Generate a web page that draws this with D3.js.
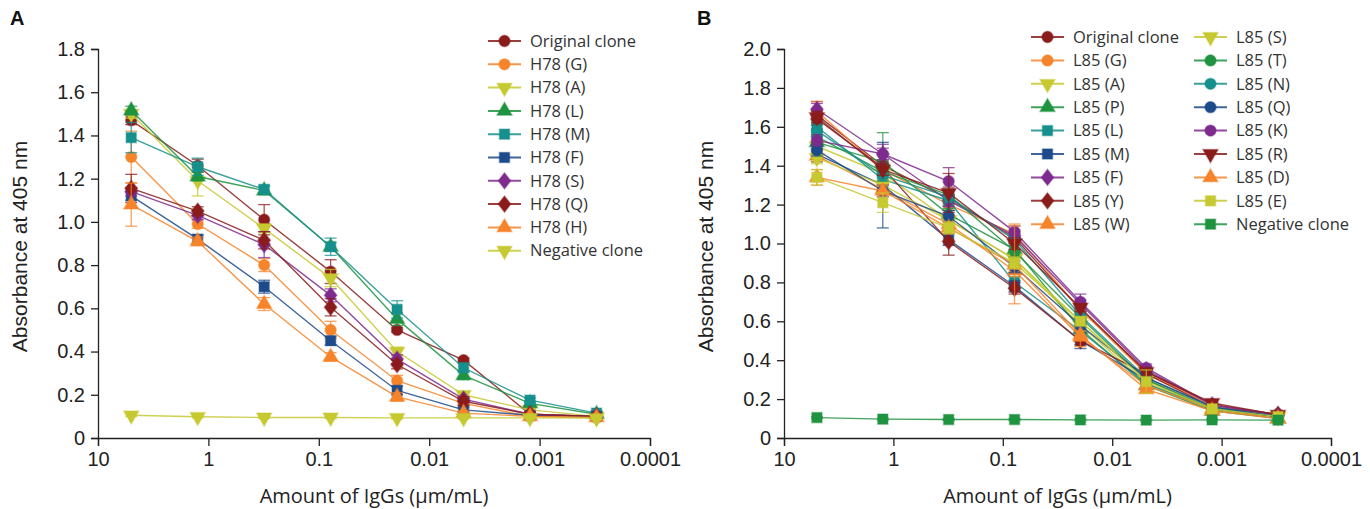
<!DOCTYPE html>
<html>
<head>
<meta charset="utf-8">
<script src="https://d3js.org/d3.v7.min.js"></script>
<style>
  body { margin: 0; background: #fff; }
  svg { display: block; }
</style>
</head>
<body>
<svg id="chart" width="1370" height="509"></svg>
<script>
// dilution series, 4-fold from 5 ug/mL
const conc = [5, 1.25, 0.3125, 0.078125, 0.01953, 0.004883, 0.001221, 0.000305];
const xTicks = [10, 1, 0.1, 0.01, 0.001, 0.0001];

const colors = {
    darkred: "#8a1c1c",
    orange: "#f5842a",
    lime: "#c6c930",
    green: "#1f9340",
    teal: "#16908c",
    navy: "#1d4a8a",
    purple: "#7e2b8e"
};

// ---- panel A ----
const namesA = ["Original clone", "H78 (G)", "H78 (A)", "H78 (L)", "H78 (M)", "H78 (F)", "H78 (S)", "H78 (Q)", "H78 (H)", "Negative clone"];
const colorsA = ["darkred", "orange", "lime", "green", "teal", "navy", "purple", "darkred", "orange", "lime"];
const shapesA = ["circle", "circle", "tridown", "triangle", "square", "square", "diamond", "diamond", "triangle", "tridown"];
const valuesA = [
    [1.47, 1.26, 1.01, 0.77, 0.50, 0.36, 0.11, 0.10],
    [1.30, 0.99, 0.80, 0.50, 0.265, 0.16, 0.10, 0.095],
    [1.50, 1.19, 0.97, 0.74, 0.40, 0.20, 0.13, 0.10],
    [1.515, 1.21, 1.145, 0.885, 0.55, 0.29, 0.16, 0.11],
    [1.39, 1.255, 1.15, 0.885, 0.595, 0.325, 0.175, 0.115],
    [1.12, 0.92, 0.70, 0.45, 0.22, 0.13, 0.105, 0.10],
    [1.14, 1.03, 0.895, 0.66, 0.365, 0.18, 0.11, 0.10],
    [1.155, 1.05, 0.915, 0.605, 0.34, 0.17, 0.11, 0.10],
    [1.08, 0.91, 0.62, 0.375, 0.19, 0.115, 0.10, 0.095],
    [0.105, 0.098, 0.095, 0.095, 0.093, 0.093, 0.093, 0.092]
];
const errA = [
    [0.02, 0.03, 0.07, 0.055, 0.01, 0.01, 0.01, 0.01],
    [0.12, 0.02, 0.03, 0.04, 0.025, 0.01, 0.01, 0.01],
    [0.02, 0.07, 0.02, 0.04, 0.02, 0.01, 0.01, 0.01],
    [0.02, 0.02, 0.02, 0.02, 0.03, 0.02, 0.01, 0.01],
    [0.07, 0.04, 0.02, 0.04, 0.04, 0.02, 0.01, 0.01],
    [0.02, 0.02, 0.03, 0.02, 0.02, 0.01, 0.01, 0.01],
    [0.02, 0.02, 0.06, 0.03, 0.02, 0.01, 0.01, 0.01],
    [0.065, 0.02, 0.04, 0.04, 0.02, 0.02, 0.01, 0.01],
    [0.10, 0.02, 0.03, 0.02, 0.02, 0.01, 0.01, 0.01],
    [0.005, 0.005, 0.005, 0.005, 0.005, 0.005, 0.005, 0.005]
];
const yTicksA = [0, 0.2, 0.4, 0.6, 0.8, 1.0, 1.2, 1.4, 1.6, 1.8];

// ---- panel B ----
const namesB = ["Original clone", "L85 (G)", "L85 (A)", "L85 (P)", "L85 (L)", "L85 (M)", "L85 (F)", "L85 (Y)", "L85 (W)",
                "L85 (S)", "L85 (T)", "L85 (N)", "L85 (Q)", "L85 (K)", "L85 (R)", "L85 (D)", "L85 (E)", "Negative clone"];
const colorsB = ["darkred", "orange", "lime", "green", "teal", "navy", "purple", "darkred", "orange",
                 "lime", "green", "teal", "navy", "purple", "darkred", "orange", "lime", "green"];
const shapesB = ["circle", "circle", "tridown", "triangle", "square", "square", "diamond", "diamond", "triangle",
                 "tridown", "circle", "circle", "circle", "circle", "tridown", "triangle", "square", "square"];
const valuesB = [
    [1.66, 1.40, 1.23, 1.03, 0.66, 0.34, 0.17, 0.12],
    [1.68, 1.38, 1.20, 1.05, 0.66, 0.33, 0.17, 0.12],
    [1.50, 1.36, 1.12, 0.92, 0.58, 0.28, 0.15, 0.11],
    [1.52, 1.42, 1.15, 0.97, 0.56, 0.27, 0.14, 0.10],
    [1.60, 1.33, 1.22, 0.80, 0.55, 0.28, 0.15, 0.11],
    [1.46, 1.30, 1.02, 0.78, 0.50, 0.30, 0.15, 0.11],
    [1.69, 1.46, 1.22, 1.04, 0.69, 0.35, 0.17, 0.12],
    [1.64, 1.39, 1.01, 0.77, 0.50, 0.33, 0.16, 0.12],
    [1.45, 1.28, 1.10, 0.86, 0.52, 0.27, 0.15, 0.10],
    [1.44, 1.30, 1.12, 0.92, 0.60, 0.30, 0.15, 0.11],
    [1.55, 1.37, 1.25, 0.96, 0.62, 0.30, 0.15, 0.11],
    [1.58, 1.35, 1.24, 1.02, 0.63, 0.31, 0.16, 0.11],
    [1.48, 1.27, 1.14, 0.88, 0.58, 0.31, 0.16, 0.11],
    [1.53, 1.46, 1.32, 1.06, 0.70, 0.36, 0.17, 0.12],
    [1.65, 1.38, 1.26, 1.00, 0.67, 0.34, 0.18, 0.12],
    [1.34, 1.27, 1.08, 0.89, 0.53, 0.25, 0.14, 0.10],
    [1.34, 1.21, 1.08, 0.90, 0.60, 0.29, 0.15, 0.11],
    [0.105, 0.097, 0.095, 0.095, 0.093, 0.092, 0.093, 0.092]
];
const errB = [
    [0.07, 0.03, 0.06, 0.03, 0.03, 0.02, 0.01, 0.01],
    [0.05, 0.03, 0.03, 0.05, 0.02, 0.02, 0.01, 0.01],
    [0.03, 0.03, 0.03, 0.03, 0.02, 0.02, 0.01, 0.01],
    [0.03, 0.15, 0.03, 0.03, 0.02, 0.02, 0.01, 0.01],
    [0.03, 0.03, 0.03, 0.03, 0.02, 0.02, 0.01, 0.01],
    [0.04, 0.22, 0.03, 0.03, 0.04, 0.02, 0.01, 0.01],
    [0.03, 0.03, 0.03, 0.03, 0.02, 0.02, 0.01, 0.01],
    [0.03, 0.03, 0.07, 0.03, 0.02, 0.02, 0.01, 0.01],
    [0.03, 0.03, 0.03, 0.03, 0.05, 0.02, 0.01, 0.01],
    [0.03, 0.03, 0.03, 0.03, 0.02, 0.02, 0.01, 0.01],
    [0.03, 0.03, 0.03, 0.03, 0.02, 0.02, 0.01, 0.01],
    [0.03, 0.03, 0.03, 0.03, 0.02, 0.02, 0.01, 0.01],
    [0.03, 0.03, 0.03, 0.03, 0.02, 0.02, 0.01, 0.01],
    [0.03, 0.05, 0.07, 0.03, 0.04, 0.02, 0.01, 0.01],
    [0.03, 0.03, 0.10, 0.03, 0.02, 0.02, 0.01, 0.01],
    [0.04, 0.03, 0.03, 0.20, 0.02, 0.02, 0.01, 0.01],
    [0.04, 0.05, 0.03, 0.03, 0.02, 0.06, 0.01, 0.01],
    [0.005, 0.005, 0.005, 0.005, 0.005, 0.005, 0.005, 0.005]
];
const yTicksB = [0, 0.2, 0.4, 0.6, 0.8, 1.0, 1.2, 1.4, 1.6, 1.8, 2.0];

const svg = d3.select("#chart");

const symbolTypes = {
    circle: d3.symbolCircle,
    square: d3.symbolSquare,
    triangle: d3.symbolTriangle,
    tridown: d3.symbolTriangle,
    diamond: d3.symbolDiamond
};
const symbolSizes = { circle: 100, square: 105, triangle: 100, tridown: 100, diamond: 105 };

function marker(g, shape, color) {
    const path = d3.symbol().type(symbolTypes[shape]).size(symbolSizes[shape])();
    const m = g.append("path")
        .attr("d", path)
        .attr("fill", color)
        .attr("stroke", color)
        .attr("stroke-opacity", 0.35)
        .attr("stroke-width", 1.5);
    if (shape === "tridown") m.attr("transform", "rotate(180)");
    if (shape === "diamond") m.attr("transform", "scale(1.15,0.85)");
    return m;
}

function drawPanel(opt) {
    const { names, cols, shapes, values, errs, yTicks, yMax, left, right, top, bottom, label } = opt;

    const x = d3.scaleLog().domain([10, 0.0001]).range([left, right]);
    const y = d3.scaleLinear().domain([0, yMax]).range([bottom, top]);

    const g = svg.append("g");

    // panel letter
    g.append("text")
        .attr("x", label.x).attr("y", label.y)
        .attr("font-family", "Liberation Sans, Arial, sans-serif")
        .attr("font-weight", "bold")
        .attr("font-size", 20)
        .attr("fill", "#111")
        .text(label.text);

    // axes
    const yAxis = g.append("g")
        .attr("transform", `translate(${left},0)`)
        .call(d3.axisLeft(y).tickValues(yTicks).tickSize(7).tickPadding(6)
            .tickFormat(d => d === 0 ? "0" : d3.format(".1f")(d)));
    const xAxis = g.append("g")
        .attr("transform", `translate(0,${bottom})`)
        .call(d3.axisBottom(x).tickValues(xTicks).tickSize(8).tickPadding(6)
            .tickFormat(d => String(+d.toPrecision(1))));

    [xAxis, yAxis].forEach(a => {
        a.select(".domain").attr("stroke", "#222").attr("stroke-width", 1.3);
        a.selectAll(".tick line").attr("stroke", "#222").attr("stroke-width", 1.3);
        a.selectAll(".tick text")
            .attr("font-family", "Liberation Sans, Arial, sans-serif")
            .attr("font-size", 20)
            .attr("fill", "#222");
    });

    // axis titles
    g.append("text")
        .attr("x", (left + right) / 2)
        .attr("y", bottom + 65)
        .attr("text-anchor", "middle")
        .attr("font-family", "Open Sans, Noto Sans, sans-serif")
        .attr("font-size", 20)
        .attr("fill", "#222")
        .text("Amount of IgGs (\u03bcm/mL)");

    g.append("text")
        .attr("transform", `translate(${left - 71},${(top + bottom) / 2 + 3}) rotate(-90)`)
        .attr("text-anchor", "middle")
        .attr("font-family", "Liberation Sans, Arial, sans-serif")
        .attr("font-size", 21)
        .attr("fill", "#222")
        .text("Absorbance at 405 nm");

    const line = d3.line().x((d, i) => x(conc[i])).y(d => y(d));

    // series
    values.forEach((vals, s) => {
        const color = colors[cols[s]];
        const sg = g.append("g");

        sg.append("path")
            .datum(vals)
            .attr("d", line)
            .attr("fill", "none")
            .attr("stroke", color)
            .attr("stroke-opacity", 0.85)
            .attr("stroke-width", 1.4);

        vals.forEach((v, i) => {
            const e = errs[s][i];
            const cx = x(conc[i]);
            const eg = sg.append("g").attr("stroke", color).attr("stroke-opacity", 0.75).attr("stroke-width", 1.3);
            eg.append("line").attr("x1", cx).attr("x2", cx).attr("y1", y(v - e)).attr("y2", y(v + e));
            eg.append("line").attr("x1", cx - 6).attr("x2", cx + 6).attr("y1", y(v - e)).attr("y2", y(v - e));
            eg.append("line").attr("x1", cx - 6).attr("x2", cx + 6).attr("y1", y(v + e)).attr("y2", y(v + e));
        });

        vals.forEach((v, i) => {
            const mg = sg.append("g").attr("transform", `translate(${x(conc[i])},${y(v)})`);
            marker(mg, shapes[s], color);
        });
    });

    // legend
    const perCol = opt.legend.perCol;
    names.forEach((name, s) => {
        const col = Math.floor(s / perCol);
        const row = s % perCol;
        const lx = opt.legend.x + col * opt.legend.colW;
        const ly = opt.legend.y + row * opt.legend.rowH;
        const color = colors[cols[s]];
        const lg = g.append("g").attr("transform", `translate(${lx},${ly})`);
        lg.append("line")
            .attr("x1", 0).attr("x2", 33)
            .attr("stroke", color).attr("stroke-opacity", 0.85).attr("stroke-width", 2);
        const mg = lg.append("g").attr("transform", "translate(16.5,0)");
        marker(mg, shapes[s], color);
        lg.append("text")
            .attr("x", 42).attr("y", 0)
            .attr("dy", "0.35em")
            .attr("font-family", "Open Sans, Noto Sans, sans-serif")
            .attr("font-size", 16.5)
            .attr("fill", "#333")
            .text(name);
    });
}

drawPanel({
    names: namesA, cols: colorsA, shapes: shapesA, values: valuesA, errs: errA,
    yTicks: yTicksA, yMax: 1.8,
    left: 98, right: 650, top: 49, bottom: 438,
    label: { x: 10, y: 25, text: "A" },
    legend: { x: 488, y: 41, rowH: 23.3, colW: 0, perCol: 10 }
});

drawPanel({
    names: namesB, cols: colorsB, shapes: shapesB, values: valuesB, errs: errB,
    yTicks: yTicksB, yMax: 2.0,
    left: 784, right: 1331, top: 49, bottom: 438,
    label: { x: 697, y: 25, text: "B" },
    legend: { x: 1031, y: 37, rowH: 23.4, colW: 163, perCol: 9 }
});
</script>
</body>
</html>
